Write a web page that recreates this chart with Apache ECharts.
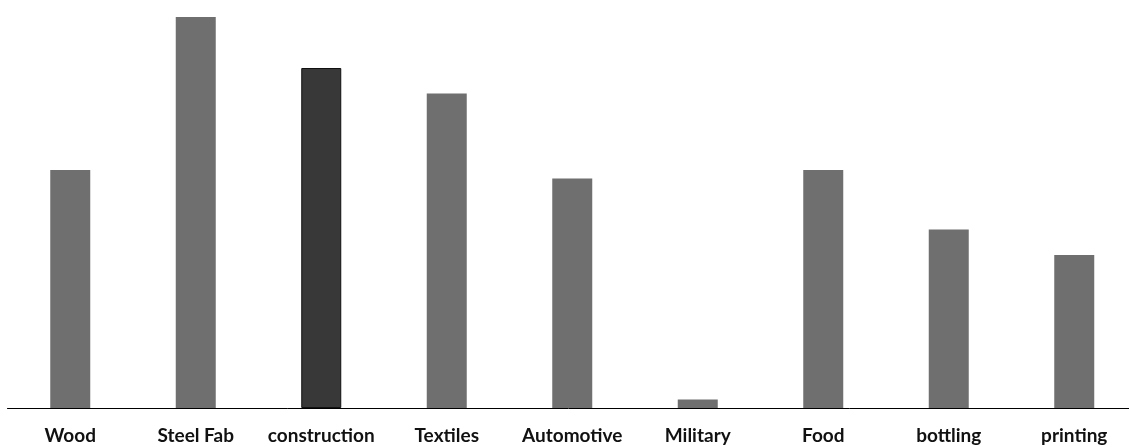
<!DOCTYPE html>
<html>
<head>
<meta charset="utf-8">
<script src="https://cdn.jsdelivr.net/npm/echarts@6/dist/echarts.min.js"></script>
<style>
  html, body { margin: 0; padding: 0; background: #ffffff; overflow: hidden; }
  #chart { width: 1129px; height: 447px; }
</style>
</head>
<body>
<div id="chart"></div>
<script>
// Industry categories along the x axis
const categories = ['Wood', 'Steel Fab', 'construction', 'Textiles', 'Automotive', 'Military', 'Food', 'bottling', 'printing'];
// Count per industry
const values = [28, 46, 40, 37, 27, 1, 28, 21, 18];
// The highlighted industry
const highlight = 'construction';

const chart = echarts.init(document.getElementById('chart'), null, { renderer: 'canvas' });

const barData = values.map((v, i) => {
  const isHi = categories[i] === highlight;
  return {
    value: v,
    itemStyle: isHi
      ? { color: '#383838', borderColor: '#111111', borderWidth: 1 }
      : { color: '#6f6f6f' }
  };
});

chart.setOption({
  animation: false,
  // the last category band runs slightly past the right edge
  grid: { left: 7.5, width: 1129.5, top: 0, height: 408, outerBoundsMode: 'none', containLabel: false },
  xAxis: {
    type: 'category',
    data: categories,
    axisLine: { show: true, lineStyle: { color: '#000000', width: 1 } },
    axisTick: { show: false },
    axisLabel: {
      interval: 0,
      margin: 18,
      color: '#111111',
      fontFamily: 'Lato',
      fontWeight: 'bold',
      fontSize: 19
    }
  },
  yAxis: {
    type: 'value',
    min: 0,
    max: 48,
    show: false,
    splitLine: { show: false }
  },
  series: [{
    type: 'bar',
    data: barData,
    barWidth: 40
  }]
});
</script>
</body>
</html>
